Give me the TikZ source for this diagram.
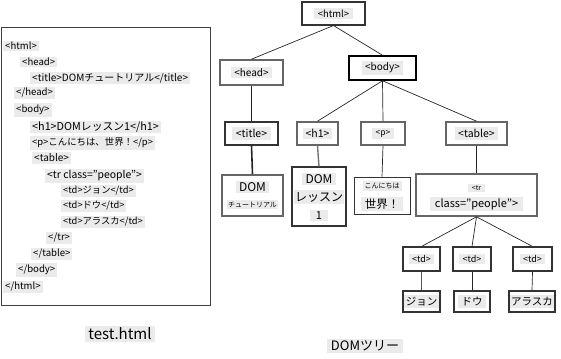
\documentclass[tikz,border=0pt]{standalone}
\usepackage{fontspec}
\setmainfont{Noto Sans CJK JP}
\newcommand{\fs}[1]{\fontsize{#1}{#1}\selectfont}
\begin{document}
\begin{tikzpicture}[x=1pt,y=-1pt,
 box/.style={draw=black!80,line width=1.1pt,fill=white,inner sep=0pt},
 gbox/.style={box,draw=black!60,line width=1.6pt},
 lbl/.style={fill=black!8,inner xsep=3.5pt,inner ysep=1.8pt,font=\fs{10}},
 code/.style={fill=black!8,anchor=west,inner xsep=2pt,inner ysep=1.6pt,font=\fs{9.6}},
 edge/.style={draw=black!85,line width=0.7pt},
 tedge/.style={draw=black!85,line width=1.6pt},
 gedge/.style={draw=black!55,line width=1.4pt}]
\useasboundingbox (0,0) rectangle (561,358);
% source panel
\node[draw=black!75,line width=1.3pt,minimum width=209pt,minimum height=278pt,anchor=north west,inner sep=0pt] (src) at (1,27) {};
\node[code] (c1) at (3,46) {<html>};
\node[code] (c2) at (20,62) {<head>};
\node[code,font=\fs{10}] (c3) at (30,78) {<title>DOMチュートリアル</title>};
\node[code] (c4) at (14,93) {</head>};
\node[code] (c5) at (14,110) {<body>};
\node[code,font=\fs{10.8},inner ysep=1pt] (c6) at (30,127) {<h1>DOMレッスン1</h1>};
\node[code,font=\fs{9.4}] (c7) at (30,143) {<p>こんにちは、世界！</p>};
\node[code,font=\fs{10}] (c8) at (32,158) {<table>};
\node[code,font=\fs{10.4}] (c9) at (45,176) {<tr class="people">};
\node[code,font=\fs{9.3}] (c10) at (61,191) {<td>ジョン</td>};
\node[code,font=\fs{9.3}] (c11) at (61,206) {<td>ドウ</td>};
\node[code,font=\fs{9.3}] (c12) at (61,222) {<td>アラスカ</td>};
\node[code] (c13) at (46,238) {</tr>};
\node[code] (c14) at (31,254) {</table>};
\node[code] (c15) at (16,270) {</body>};
\node[code] (c16) at (3,287) {</html>};
\node[fill=black!8,inner xsep=3pt,inner ysep=2pt,font=\fs{15}] (cap1) at (120,334) {test.html};
\node[fill=black!8,inner xsep=4pt,inner ysep=2pt,font=\fs{13}] (cap2) at (365,346) {DOMツリー};
% tree nodes
\node[box,minimum width=63pt,minimum height=23pt] (html) at (333.5,13.5) {};
\node[gbox,minimum width=63pt,minimum height=25pt] (head) at (251.5,72.5) {};
\node[box,draw=black,line width=1.5pt,minimum width=67pt,minimum height=24pt] (body) at (382.5,68) {};
\node[box,minimum width=53pt,minimum height=23pt] (title) at (251.5,133.5) {};
\node[gbox,minimum width=41pt,minimum height=23pt] (h1) at (317.5,133.5) {};
\node[gbox,minimum width=44pt,minimum height=23pt] (p) at (383,133.5) {};
\node[gbox,minimum width=61pt,minimum height=23pt] (table) at (476.5,133.5) {};
\node[gbox,minimum width=61pt,minimum height=41pt] (dom1) at (252.5,195.5) {};
\node[box,minimum width=54pt,minimum height=59pt] (dom2) at (319,196.5) {};
\node[box,line width=0.8pt,minimum width=56pt,minimum height=37pt] (hello) at (382,195.5) {};
\node[gbox,minimum width=121pt,minimum height=42pt] (tr) at (476.5,195) {};
\node[box,minimum width=37pt,minimum height=24pt] (td1) at (421.5,259) {};
\node[box,minimum width=38pt,minimum height=24pt] (td2) at (472,259) {};
\node[box,minimum width=39pt,minimum height=24pt] (td3) at (532.5,259) {};
\node[box,minimum width=37pt,minimum height=21pt] (j1) at (421.5,301.5) {};
\node[box,minimum width=36pt,minimum height=21pt] (j2) at (472,301.5) {};
\node[box,minimum width=46pt,minimum height=21pt] (j3) at (532,301.5) {};
% labels
\node[lbl,font=\fs{9.5}] (html-t) at (html) {<html>};
\node[lbl] (head-t) at (head) {<head>};
\node[lbl] (body-t) at (body) {<body>};
\node[lbl,font=\fs{10.5}] (title-t) at (title) {<title>};
\node[lbl,font=\fs{10.5},inner xsep=2.5pt] (h1-t) at (h1) {<h1>};
\node[lbl,font=\fs{8.5}] (p-t) at (p) {<p>};
\node[lbl,font=\fs{10.5}] (table-t) at (table) {<table>};
\node[lbl,font=\fs{12}] (dom1-a) at (252.5,187) {DOM};
\node[lbl,font=\fs{7},inner xsep=1pt] (dom1-b) at (252.5,204.5) {チュートリアル};
\node[lbl,font=\fs{12}] (dom2-a) at (319,179) {DOM};
\node[lbl,font=\fs{12},inner xsep=1pt] (dom2-b) at (319,197) {レッスン};
\node[lbl,font=\fs{11},inner xsep=6pt] (dom2-c) at (319,215.5) {1};
\node[lbl,font=\fs{7},inner xsep=2pt] (hello-a) at (382,186) {こんにちは};
\node[lbl,font=\fs{11.5}] (hello-b) at (382,204) {世界！};
\node[lbl,font=\fs{7}] (tr-a) at (476.5,188) {<tr};
\node[lbl,font=\fs{11},inner xsep=5pt] (tr-b) at (476.5,204) {class="people">};
\node[lbl,font=\fs{9}] (td1-t) at (td1) {<td>};
\node[lbl,font=\fs{9}] (td2-t) at (td2) {<td>};
\node[lbl,font=\fs{9}] (td3-t) at (td3) {<td>};
\node[lbl,font=\fs{10.5},inner xsep=1.5pt] (j1-t) at (j1) {ジョン};
\node[lbl,font=\fs{10.5}] (j2-t) at (j2) {ドウ};
\node[lbl,font=\fs{10.5},inner xsep=1.5pt] (j3-t) at (j3) {アラスカ};
% edges
\draw[edge] (html.south) -- (head.north);
\draw[edge] (html.south) -- (body.north);
\draw[tedge] (head.south) -- (title.north);
\draw[tedge] (title.south) -- (dom1.north);
\draw[edge] (body.south) -- (h1.north);
\draw[edge] (body.south) -- (p.north);
\draw[edge] (body.south) -- (table.north);
\draw[gedge] (h1.south) -- (dom2.north);
\draw[edge] (p.south) -- (hello.north);
\draw[edge] (table.south) -- (tr.north);
\draw[edge] (tr.south) -- (td1.north);
\draw[edge] (tr.south) -- (td2.north);
\draw[edge] (tr.south) -- (td3.north);
\draw[edge,line width=1.2pt,draw=black!65] (td1.south) -- (j1.north);
\draw[edge] (td2.south) -- (j2.north);
\draw[edge] (td3.south) -- (j3.north);
\end{tikzpicture}
\end{document}
